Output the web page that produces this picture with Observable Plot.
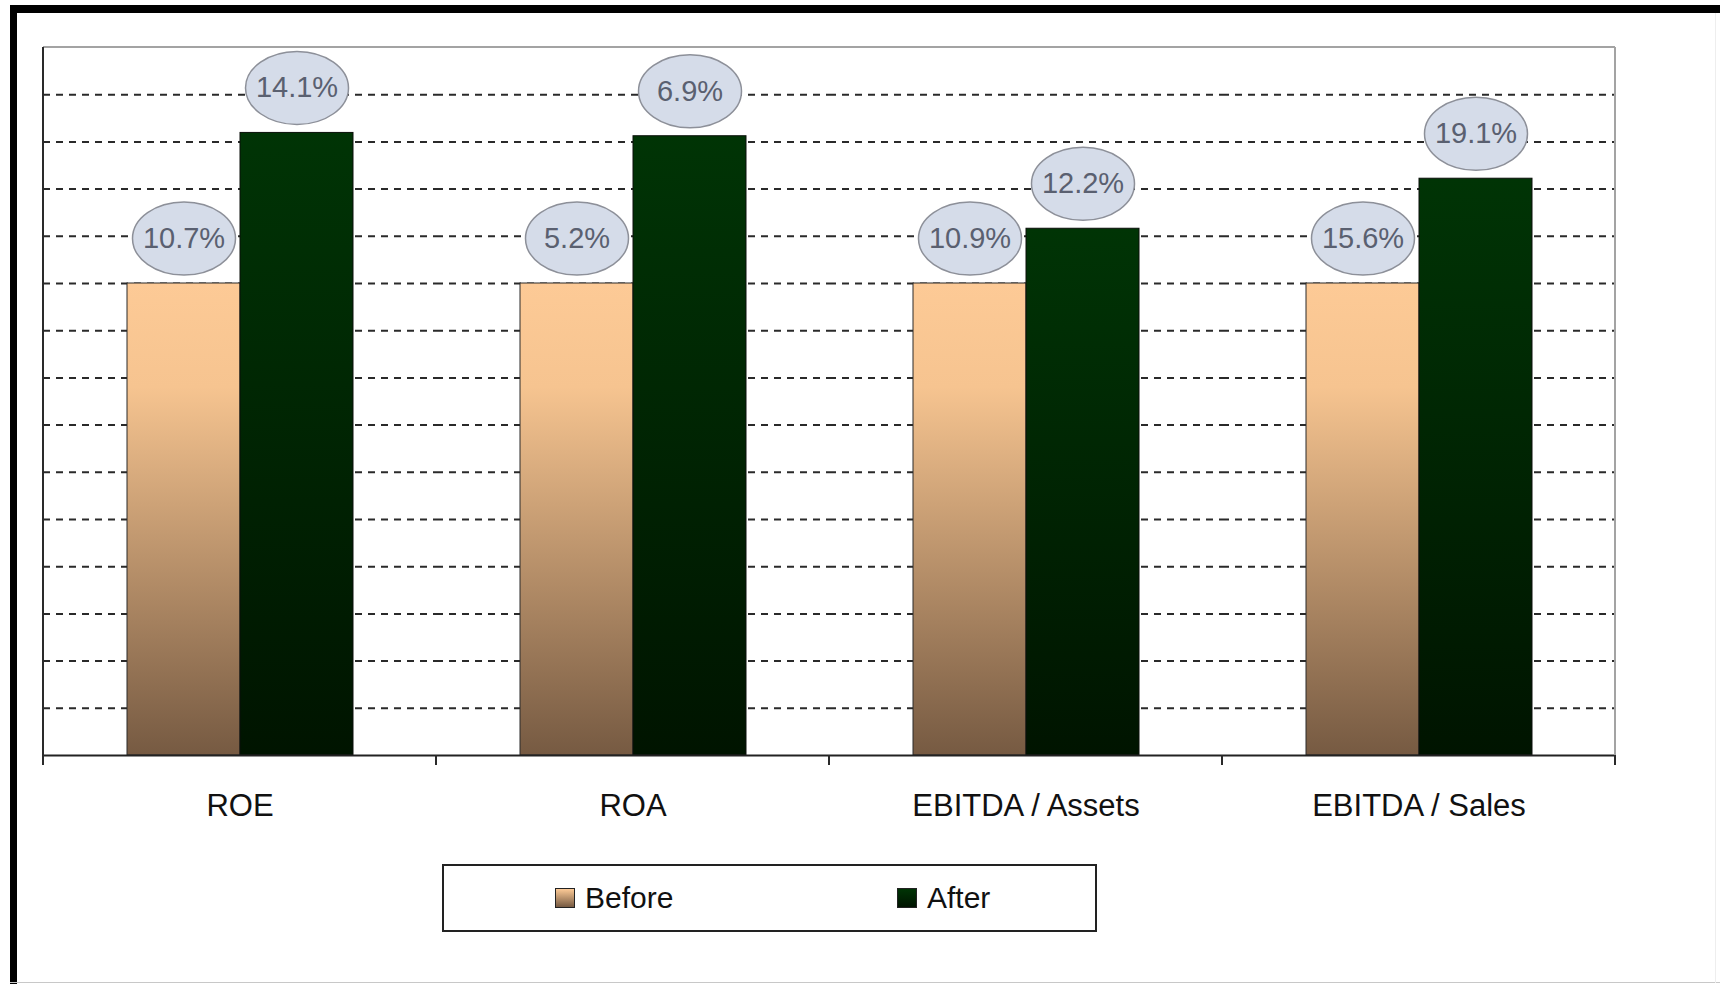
<!DOCTYPE html>
<html>
<head>
<meta charset="utf-8">
<script src="https://cdn.jsdelivr.net/npm/d3@7"></script>
<script src="https://cdn.jsdelivr.net/npm/@observablehq/plot@0.6"></script>
<style>
  html, body { margin: 0; padding: 0; background: #fff; }
  #wrap { position: relative; width: 1720px; height: 984px; overflow: hidden; background: #fff;
          font-family: "Liberation Sans", Arial, sans-serif; }
  #chart { position: absolute; left: 0; top: 0; }
  .bar-left { position: absolute; left: 10px; top: 5px; width: 7px; height: 979px; background: #000; }
  .bar-top { position: absolute; left: 10px; top: 5px; width: 1710px; height: 8px; background: #000; }
  .line-bottom { position: absolute; left: 10px; top: 982px; width: 1710px; height: 1px; background: #c8c8c8; }
  .line-right { position: absolute; left: 1715px; top: 13px; width: 1px; height: 970px; background: #eeeeee; }
  #legend { position: absolute; left: 442px; top: 864px; width: 651px; height: 64px;
            border: 2px solid #222; background: #fff; }
  .item { position: absolute; top: 0; height: 64px; display: flex; align-items: center;
          font-size: 30px; color: #111; }
  .sw { width: 18px; height: 18px; border: 1px solid #222; margin-right: 10px; }
</style>
</head>
<body>
<div id="wrap">
  <div id="chart"></div>
  <div class="bar-left"></div>
  <div class="bar-top"></div>
  <div class="line-bottom"></div>
  <div class="line-right"></div>
  <div id="legend"></div>
</div>
<script>
// ---- data ----
const categories = ["ROE", "ROA", "EBITDA / Assets", "EBITDA / Sales"];
const seriesNames = ["Before", "After"];
const beforeValues = [10.7, 5.2, 10.9, 15.6];   // labels of the "Before" bars
const afterValues = [14.1, 6.9, 12.2, 19.1];    // labels of the "After" bars
const beforeIndex = [100, 100, 100, 100];       // bar heights (Before = 100)
const afterIndex = [131.9, 131.2, 111.6, 122.2]; // bar heights
const gridTicks = [10, 20, 30, 40, 50, 60, 70, 80, 90, 100, 110, 120, 130, 140];
const yMax = 150;

const rows = categories.flatMap((c, i) => [
  {cat: c, series: "Before", value: beforeValues[i], idx: beforeIndex[i]},
  {cat: c, series: "After", value: afterValues[i], idx: afterIndex[i]}
]);

// ellipse symbol for the data labels
const ellipse = {
  draw(ctx) {
    const a = 51.5, b = 36.5, k = 0.5523;
    ctx.moveTo(a, 0);
    ctx.bezierCurveTo(a, k * b, k * a, b, 0, b);
    ctx.bezierCurveTo(-k * a, b, -a, k * b, -a, 0);
    ctx.bezierCurveTo(-a, -k * b, -k * a, -b, 0, -b);
    ctx.bezierCurveTo(k * a, -b, a, -k * b, a, 0);
    ctx.closePath();
  }
};

const font = "'Liberation Sans', Arial, sans-serif";

const chart = Plot.plot({
  width: 1720,
  height: 860,
  marginLeft: 42,
  marginRight: 105,
  marginTop: 47,
  marginBottom: 105,
  style: {fontFamily: font, background: "transparent", overflow: "visible"},
  fx: {domain: categories, padding: 0},
  x: {domain: seriesNames, paddingInner: 0, paddingOuter: 0.7357, axis: null},
  y: {domain: [0, yMax], axis: null},
  marks: [
    Plot.ruleY(gridTicks, {stroke: "#2a2a2a", strokeWidth: 2, strokeDasharray: "7,6"}),
    Plot.barY(rows.filter(d => d.series === "Before"), {
      fx: "cat", x: "series", y: "idx", fill: "url(#gBefore)", stroke: "#2a2a2a", strokeWidth: 1
    }),
    Plot.barY(rows.filter(d => d.series === "After"), {
      fx: "cat", x: "series", y: "idx", fill: "url(#gAfter)", stroke: "#0a0f0a", strokeWidth: 1
    }),
    Plot.ruleY([0], {stroke: "#222", strokeWidth: 2}),
    Plot.dot(rows, {
      fx: "cat", x: "series", y: "idx", dy: -45, symbol: ellipse,
      fill: "#d5dce9", stroke: "#8d9099", strokeWidth: 1.5
    }),
    Plot.text(rows, {
      fx: "cat", x: "series", y: "idx", dy: -45,
      text: d => d.value.toFixed(1) + "%",
      fontSize: 29, fill: "#5a6070", fontFamily: font
    }),
    Plot.axisFx({anchor: "bottom", tickSize: 0, tickPadding: 38, fontSize: 31,
                 fill: "#111", label: null, fontFamily: font})
  ]
});

document.getElementById("chart").appendChild(chart);

// gradients + frame lines, positioned through Plot's own scales
const svg = d3.select(chart.tagName === "svg" ? chart : chart.querySelector("svg"));
const defs = svg.insert("defs", ":first-child");
const gb = defs.append("linearGradient").attr("id", "gBefore")
  .attr("x1", 0).attr("y1", 0).attr("x2", 0).attr("y2", 1);
gb.append("stop").attr("offset", "0%").attr("stop-color", "#fdca96");
gb.append("stop").attr("offset", "22%").attr("stop-color", "#f6c490");
gb.append("stop").attr("offset", "100%").attr("stop-color", "#765a42");
const ga = defs.append("linearGradient").attr("id", "gAfter")
  .attr("x1", 0).attr("y1", 0).attr("x2", 0).attr("y2", 1);
ga.append("stop").attr("offset", "0%").attr("stop-color", "#003405");
ga.append("stop").attr("offset", "100%").attr("stop-color", "#001400");

const yS = chart.scale("y");
const fxS = chart.scale("fx");
const y0 = yS.apply(0), yTop = yS.apply(yMax);
const starts = categories.map(c => fxS.apply(c));
const bw = fxS.bandwidth;
const left = starts[0], right = starts[starts.length - 1] + bw;
const g = svg.append("g");
g.append("line").attr("x1", left).attr("x2", right).attr("y1", yTop).attr("y2", yTop)
  .attr("stroke", "#a3a3a3").attr("stroke-width", 2);
g.append("line").attr("x1", right).attr("x2", right).attr("y1", yTop).attr("y2", y0)
  .attr("stroke", "#a3a3a3").attr("stroke-width", 2);
g.append("line").attr("x1", left).attr("x2", left).attr("y1", yTop).attr("y2", y0)
  .attr("stroke", "#2a2a2a").attr("stroke-width", 2);
[...starts, right].forEach(x => {
  g.append("line").attr("x1", x).attr("x2", x).attr("y1", y0).attr("y2", y0 + 10)
    .attr("stroke", "#2a2a2a").attr("stroke-width", 2);
});

// legend
const legend = document.getElementById("legend");
const legendItems = [
  {name: seriesNames[0], left: 111, bg: "linear-gradient(#fdca96, #765a42)"},
  {name: seriesNames[1], left: 453, bg: "linear-gradient(#003405, #001400)"}
];
legendItems.forEach(it => {
  const d = document.createElement("div");
  d.className = "item";
  d.style.left = it.left + "px";
  const sw = document.createElement("div");
  sw.className = "sw";
  sw.style.background = it.bg;
  d.appendChild(sw);
  d.appendChild(document.createTextNode(it.name));
  legend.appendChild(d);
});
</script>
</body>
</html>
